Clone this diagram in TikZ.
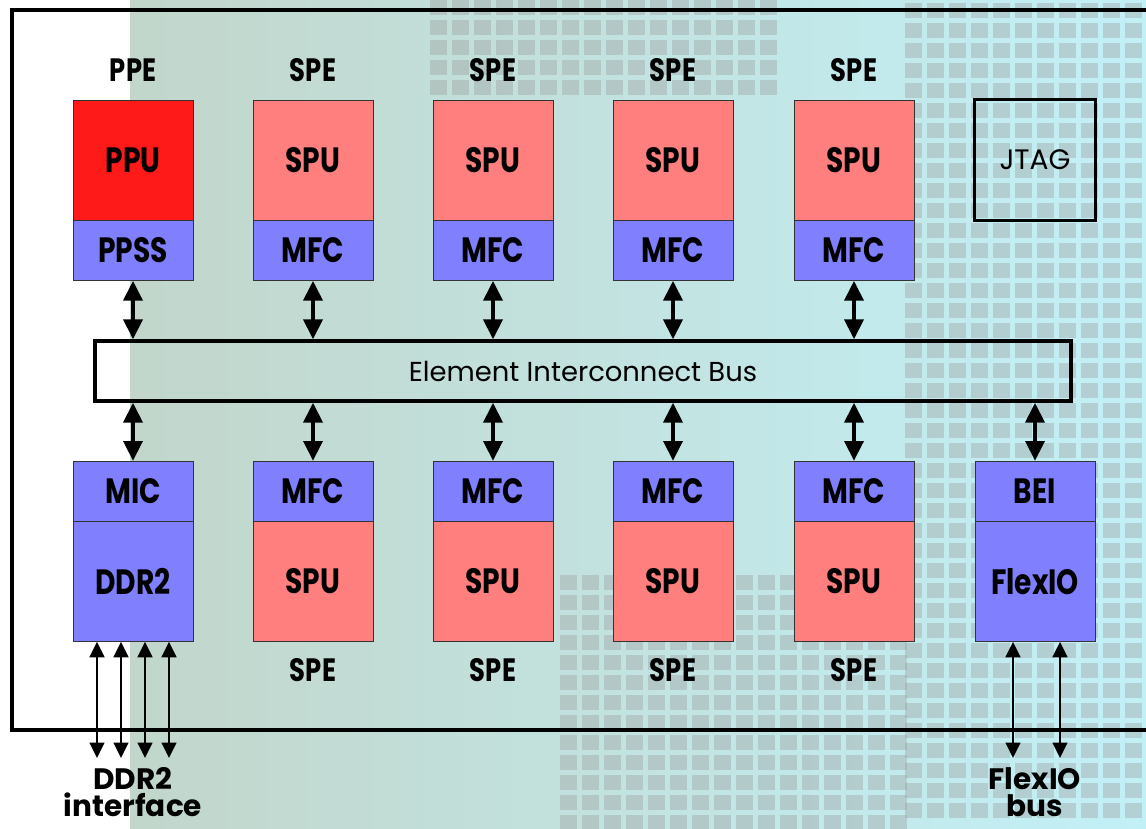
\documentclass[tikz,border=0pt]{standalone}
\usepackage{fontspec}
\setmainfont{Poppins}
\newfontfamily\blkfont[FakeStretch=0.8]{Poppins}
\usetikzlibrary{arrows.meta, positioning}

\definecolor{ppured}{HTML}{FF1A1A}
\definecolor{spured}{HTML}{FF7F7F}
\definecolor{mfcblue}{HTML}{8080FF}
\definecolor{bgA}{HTML}{C2D6CB}
\definecolor{bgB}{HTML}{C6F7DC}
\definecolor{bgC}{HTML}{C2F0F7}

\tikzset{
  unit/.style={draw=black!80, thin, minimum width=3cm, inner sep=0pt, font=\blkfont\bfseries\fontsize{25}{28}\selectfont},
  bigunit/.style={unit, minimum height=3cm},
  smallunit/.style={unit, minimum height=1.5cm},
  elabel/.style={font=\blkfont\bfseries\fontsize{23}{26}\selectfont},
  iolabel/.style={align=center, inner sep=0pt, font=\bfseries\fontsize{21}{19}\selectfont},
  frame/.style={draw, line width=2.6pt},
  busarrow/.style={{Triangle[length=14pt,width=13.5pt]}-{Triangle[length=14pt,width=13.5pt]}, line width=2.5pt},
  ioarrow/.style={{Triangle[length=11pt,width=10.5pt]}-{Triangle[length=11pt,width=10.5pt]}, line width=1.6pt},
  chipcell/.style={fill=gray!80, opacity=0.36}
}

\begin{document}
\begin{tikzpicture}[x=0.025cm, y=-0.025cm]
\useasboundingbox (0,0) rectangle (1146,829);
% die photo behind the blocks
\fill[white] (0,0) rectangle (1146,829);
\fill[left color=bgA, middle color=bgB, right color=bgC] (130,0) rectangle (1146,829);
\foreach \i in {0,...,10} \foreach \j in {0,...,40}
  \fill[chipcell] (905+\i*22, \j*20+3) rectangle +(17,15);
\foreach \i in {0,...,15} \foreach \j in {0,...,12}
  \fill[chipcell] (560+\i*22, 575+\j*20) rectangle +(17,15);
\foreach \i in {0,...,15} \foreach \j in {0,...,4}
  \fill[chipcell] (430+\i*22, \j*20) rectangle +(17,15);

% chip outline
\draw[line width=2.6pt] (1146,10) -- (12,10) -- (12,730) -- (1146,730);

% top row
\node[elabel] (ppelbl) at (133,70) {PPE};
\node[bigunit, fill=ppured] (ppu) at (133,160) {PPU};
\node[smallunit, fill=mfcblue, below=0pt of ppu] (ppss) {PPSS};
\foreach \x/\n in {313/1, 493/2, 673/3, 854/4} {
  \node[elabel] (spelbl\n) at (\x,70) {SPE};
  \node[bigunit, fill=spured] (spu\n) at (\x,160) {SPU};
  \node[smallunit, fill=mfcblue, below=0pt of spu\n] (mfc\n) {MFC};
}
\node[frame, minimum width=3.02cm, minimum height=3.02cm, font=\fontsize{20}{22}\selectfont] (jtag) at (1035,160) {JTAG};

% bus
\node[frame, minimum width=24.4cm, minimum height=1.5cm, font=\fontsize{19.5}{22}\selectfont] (eib) at (583,371) {Element Interconnect Bus};

% bottom row
\node[smallunit, fill=mfcblue] (mic) at (133,491) {MIC};
\node[bigunit, fill=mfcblue, below=0pt of mic] (ddr) {DDR2};
\foreach \x/\n in {313/1, 493/2, 673/3, 854/4} {
  \node[smallunit, fill=mfcblue] (mfcb\n) at (\x,491) {MFC};
  \node[bigunit, fill=spured, below=0pt of mfcb\n] (spub\n) {SPU};
  \node[elabel] (spebl\n) at (\x,670) {SPE};
}
\node[smallunit, fill=mfcblue] (bei) at (1035,491) {BEI};
\node[bigunit, fill=mfcblue, below=0pt of bei] (flexio) {FlexIO};

% bus links
\draw[busarrow] (ppss) -- (ppss |- eib.north);
\draw[busarrow] (eib.south -| mic) -- (mic);
\draw[busarrow] (eib.south -| bei) -- (bei);
\foreach \n in {1,...,4} {
  \draw[busarrow] (mfc\n) -- (mfc\n |- eib.north);
  \draw[busarrow] (eib.south -| mfcb\n) -- (mfcb\n);
}

% off-chip links
\foreach \x [count=\k] in {97,121,145,169} {
  \coordinate (ddrpin\k) at (\x,758);
  \draw[ioarrow] (ddr.south -| ddrpin\k) -- (ddrpin\k);
}
\foreach \x [count=\k] in {1013,1060} {
  \coordinate (flexpin\k) at (\x,758);
  \draw[ioarrow] (flexio.south -| flexpin\k) -- (flexpin\k);
}
\node[iolabel] (ddrlbl) at (133,792) {DDR2\\interface};
\node[iolabel] (flexlbl) at (1035,792) {FlexIO\\bus};
\end{tikzpicture}
\end{document}
